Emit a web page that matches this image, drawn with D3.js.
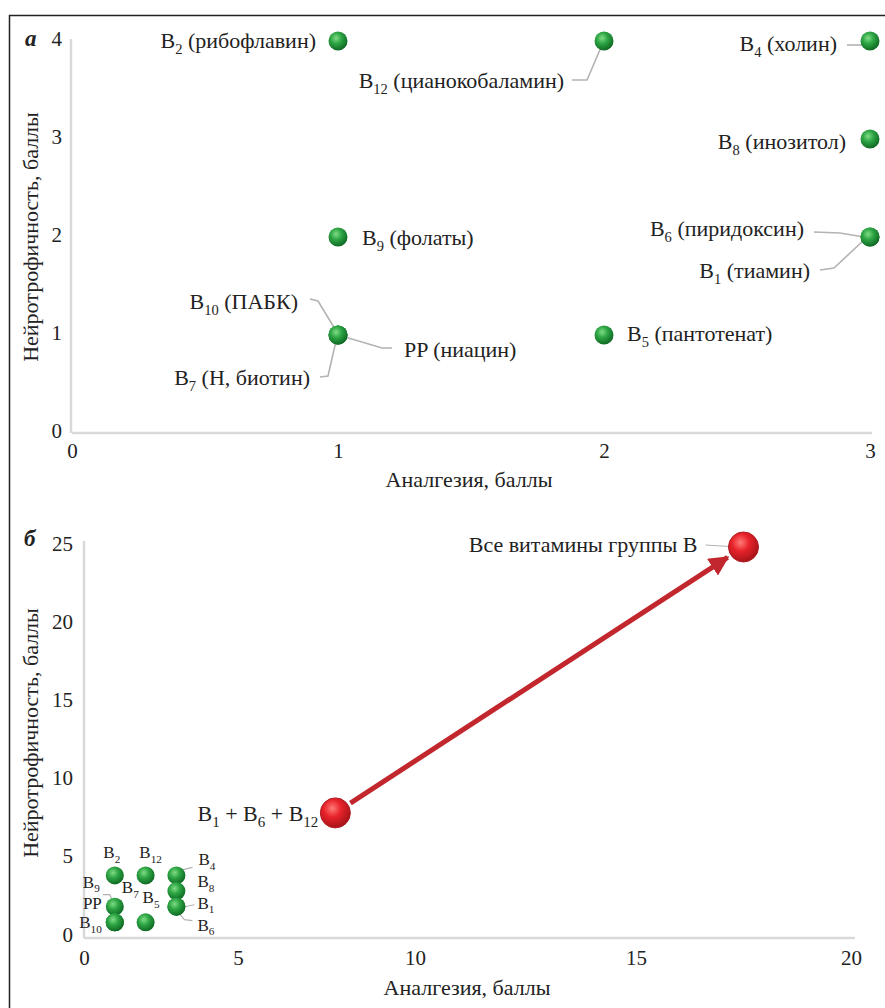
<!DOCTYPE html>
<html>
<head>
<meta charset="utf-8">
<script src="https://cdn.jsdelivr.net/npm/d3@7"></script>
</head>
<body style="margin:0">
<svg id="chart" width="885" height="1008"></svg>
<script>
// vitamins (same order in both panels)
var vitCodes = ["B2", "B12", "B4", "B8", "B6", "B1", "B9", "B10", "PP", "B7", "B5"];
var vitNames = ["рибофлавин", "цианокобаламин", "холин", "инозитол", "пиридоксин", "тиамин", "фолаты", "ПАБК", "ниацин", "H, биотин", "пантотенат"];
var analgesia = [1, 2, 3, 3, 3, 3, 1, 1, 1, 1, 2];
var neurotrophy = [4, 4, 4, 3, 2, 2, 2, 1, 1, 1, 1];

// combinations (panel б)
var comboLabels = [["B", "1", " + ", "B", "6", " + ", "B", "12"], ["Все витамины группы B"]];
var comboAnalgesia = [7.75, 17.5];
var comboNeurotrophy = [8, 25];

var ticksAX = [0, 1, 2, 3];
var ticksAY = [0, 1, 2, 3, 4];
var ticksBX = [0, 5, 10, 15, 20];
var ticksBY = [0, 5, 10, 15, 20, 25];

var xTitle = "Аналгезия, баллы";
var yTitle = "Нейротрофичность, баллы";

var serif = "Liberation Serif";
var ink = "#222";
var leadColor = "#b3b3b3";

// label layout: [dx, dy, anchor, leader points...] relative to the point
var layoutA = [
    [-22, 7, "end"],
    [-40, 47, "end", [[-32, 39], [-17, 39], [-2, 4]]],
    [-33, 10, "end", [[-23, 4], [-6, 4]]],
    [-24, 10, "end"],
    [-66, -1, "end", [[-56, -5], [-30, -4], [-6, 0]]],
    [-60, 41, "end", [[-50, 33], [-36, 31], [-6, 3]]],
    [24, 8, "start"],
    [-40, -26, "end", [[-28, -36], [-20, -34], [-3, -6]]],
    [66, 22, "start", [[7, 2], [44, 13], [54, 13]]],
    [-28, 50, "end", [[-18, 42], [-10, 41], [-2, 6]]],
    [23, 6, "start"]
];
var layoutB = [
    [-3, -17, "middle"],
    [5, -17, "middle"],
    [22, -10, "start", [[0, -2], [8, -6], [16, -8]]],
    [21, -4, "start"],
    [21, 24, "start", [[3, 7], [8, 13], [16, 14]]],
    [21, 2, "start", [[8, 0], [18, -2]]],
    [-15, -19, "end", [[-12, -12], [-5, -12], [-2, -5]]],
    [-13, 6, "end"],
    [-13, -13, "end"],
    [7, -29, "start"],
    [-3, -19, "start"]
];

var svg = d3.select("#chart");

// text helper: every text node gets its family set directly
function addText(parent, x, y, size) {
    return parent.append("text").attr("x", x).attr("y", y)
        .attr("font-family", serif).attr("font-size", size).attr("fill", ink);
}

var defs = svg.append("defs");

var gGreen = defs.append("radialGradient").attr("id", "ballGreen")
    .attr("cx", "40%").attr("cy", "35%").attr("r", "65%");
gGreen.append("stop").attr("offset", "0%").attr("stop-color", "#7fdc86");
gGreen.append("stop").attr("offset", "45%").attr("stop-color", "#2ea544");
gGreen.append("stop").attr("offset", "100%").attr("stop-color", "#0f6a24");

var gRed = defs.append("radialGradient").attr("id", "ballRed")
    .attr("cx", "40%").attr("cy", "35%").attr("r", "65%");
gRed.append("stop").attr("offset", "0%").attr("stop-color", "#ff7b78");
gRed.append("stop").attr("offset", "45%").attr("stop-color", "#e8222a");
gRed.append("stop").attr("offset", "100%").attr("stop-color", "#a8141a");

defs.append("marker").attr("id", "arrowHead")
    .attr("viewBox", "0 0 10 10").attr("refX", 9).attr("refY", 5)
    .attr("markerWidth", 4).attr("markerHeight", 4)
    .attr("orient", "auto")
    .append("path").attr("d", "M0,0L10,5L0,10Z").attr("fill", "#c1272d");

// outer frame
svg.append("rect")
    .attr("x", 9.5).attr("y", 15.5)
    .attr("width", 900).attr("height", 1010)
    .attr("fill", "none").attr("stroke", ink).attr("stroke-width", 1.5);

var line = d3.line();

function styleAxis(g) {
    g.attr("font-family", serif).attr("font-size", 21);
    g.select(".domain").attr("stroke", "#d9d9d9").attr("stroke-width", 2.5);
    g.selectAll(".tick text").attr("fill", ink).attr("font-family", serif)
        .style("font-family", "'" + serif + "'");
}

function labelText(sel, code, name, size) {
    // code like B12 -> B + subscript 12
    var m = code.match(/^([A-Z]+)(\d*)$/);
    sel.append("tspan").text(m[1]);
    if (m[2]) {
        sel.append("tspan").attr("font-size", size * 0.66).attr("dy", size * 0.28).text(m[2]);
        if (name) sel.append("tspan").attr("dy", -size * 0.28).text(" (" + name + ")");
    } else if (name) {
        sel.append("tspan").text(" (" + name + ")");
    }
}

// ---------------- panel а ----------------
var xA = d3.scaleLinear().domain([0, 3]).range([72, 870]);
var yA = d3.scaleLinear().domain([0, 4]).range([433, 41]);

var axA = svg.append("g")
    .attr("transform", "translate(0," + yA(0) + ")")
    .call(d3.axisBottom(xA).tickValues(ticksAX).tickSize(0).tickPadding(10).tickFormat(d3.format("d")))
    .call(styleAxis);
axA.select(".domain").attr("d", "M" + xA(0) + ",0H" + (xA(3) + 2));

var ayA = svg.append("g")
    .attr("transform", "translate(" + (xA(0) - 1) + ",0)")
    .call(d3.axisLeft(yA).tickValues(ticksAY).tickSize(0).tickPadding(9).tickFormat(d3.format("d")))
    .call(styleAxis);
ayA.select(".domain").attr("d", "M0," + yA(0) + "V" + (yA(4) - 2));
ayA.selectAll(".tick text").attr("dy", "0.2em");

addText(svg, 469, 487, 22).attr("text-anchor", "middle").text(xTitle);
addText(svg, 0, 0, 22).attr("transform", "translate(38,237) rotate(-90)")
    .attr("text-anchor", "middle").text(yTitle);
addText(svg, 25, 46, 23).attr("font-weight", "bold").attr("font-style", "italic").text("а");

var gA = svg.append("g");
vitCodes.forEach(function (c, i) {
    var px = xA(analgesia[i]), py = yA(neurotrophy[i]), L = layoutA[i];
    if (L[3]) {
        gA.append("path").attr("d", line(L[3].map(function (p) { return [px + p[0], py + p[1]]; })))
            .attr("fill", "none").attr("stroke", leadColor).attr("stroke-width", 1.6);
    }
    addText(gA, px + L[0], py + L[1], 22).attr("text-anchor", L[2])
        .call(labelText, c, vitNames[i], 22);
});
gA.selectAll("circle").data(vitCodes).enter().append("circle")
    .attr("cx", function (d, i) { return xA(analgesia[i]); })
    .attr("cy", function (d, i) { return yA(neurotrophy[i]); })
    .attr("r", 9.5).attr("fill", "url(#ballGreen)");

// ---------------- panel б ----------------
var xB = d3.scaleLinear().domain(ticksBX).range([84, 238, 415, 636, 851]);
var yB = d3.scaleLinear().domain([0, 25]).range([938, 547]);

var axB = svg.append("g")
    .attr("transform", "translate(0," + yB(0) + ")")
    .call(d3.axisBottom(xB).tickValues(ticksBX).tickSize(0).tickPadding(12).tickFormat(d3.format("d")))
    .call(styleAxis);
axB.select(".domain").attr("d", "M" + xB(0) + ",0H" + (xB(20) + 4));

var ayB = svg.append("g")
    .attr("transform", "translate(" + xB(0) + ",0)")
    .call(d3.axisLeft(yB).tickValues(ticksBY).tickSize(0).tickPadding(11).tickFormat(d3.format("d")))
    .call(styleAxis);
ayB.select(".domain").attr("d", "M0," + yB(0) + "V" + (yB(25) - 6));
ayB.selectAll(".tick text").attr("dy", "0.15em");

addText(svg, 467, 995, 22).attr("text-anchor", "middle").text(xTitle);
addText(svg, 0, 0, 22).attr("transform", "translate(38,733) rotate(-90)")
    .attr("text-anchor", "middle").text(yTitle);
addText(svg, 24, 546, 23).attr("font-weight", "bold").attr("font-style", "italic").text("б");

var gB = svg.append("g");
vitCodes.forEach(function (c, i) {
    var px = xB(analgesia[i]), py = yB(neurotrophy[i]), L = layoutB[i];
    if (L[3]) {
        gB.append("path").attr("d", line(L[3].map(function (p) { return [px + p[0], py + p[1]]; })))
            .attr("fill", "none").attr("stroke", leadColor).attr("stroke-width", 1.2);
    }
    addText(gB, px + L[0], py + L[1], 17).attr("text-anchor", L[2])
        .call(labelText, c, null, 17);
});
gB.selectAll("circle").data(vitCodes).enter().append("circle")
    .attr("cx", function (d, i) { return xB(analgesia[i]); })
    .attr("cy", function (d, i) { return yB(neurotrophy[i]); })
    .attr("r", 9).attr("fill", "url(#ballGreen)");

// arrow between the two combinations
var p0 = [xB(comboAnalgesia[0]), yB(comboNeurotrophy[0])];
var p1 = [xB(comboAnalgesia[1]), yB(comboNeurotrophy[1])];
var ang = Math.atan2(p1[1] - p0[1], p1[0] - p0[0]);
gB.append("line")
    .attr("x1", p0[0] + 18 * Math.cos(ang)).attr("y1", p0[1] + 18 * Math.sin(ang))
    .attr("x2", p1[0] - 19 * Math.cos(ang)).attr("y2", p1[1] - 19 * Math.sin(ang))
    .attr("stroke", "#c1272d").attr("stroke-width", 5)
    .attr("marker-end", "url(#arrowHead)");

// combo labels and leaders
var comboLayout = [[-17, 8, [[-15, 2], [0, 2]]], [-46, 5, [[-38, -2], [-6, 0]]]];
comboLabels.forEach(function (parts, i) {
    var px = xB(comboAnalgesia[i]), py = yB(comboNeurotrophy[i]), L = comboLayout[i];
    gB.append("path").attr("d", line(L[2].map(function (p) { return [px + p[0], py + p[1]]; })))
        .attr("fill", "none").attr("stroke", leadColor).attr("stroke-width", 1.2);
    var t = addText(gB, px + L[0], py + L[1], 22).attr("text-anchor", "end");
    var sub = false;
    parts.forEach(function (s) {
        var isNum = /^\d+$/.test(s);
        var ts = t.append("tspan").text(s);
        if (isNum && !sub) { ts.attr("font-size", 15).attr("dy", 6); sub = true; }
        else if (!isNum && sub) { ts.attr("dy", -6); sub = false; }
    });
});
gB.selectAll("circle.combo").data(comboAnalgesia).enter().append("circle")
    .attr("class", "combo")
    .attr("cx", function (d) { return xB(d); })
    .attr("cy", function (d, i) { return yB(comboNeurotrophy[i]); })
    .attr("r", 15).attr("fill", "url(#ballRed)")
    .attr("stroke", "#b01a20").attr("stroke-width", 1);

svg.selectAll("text").style("font-family", "'" + serif + "'");
</script>
</body>
</html>
